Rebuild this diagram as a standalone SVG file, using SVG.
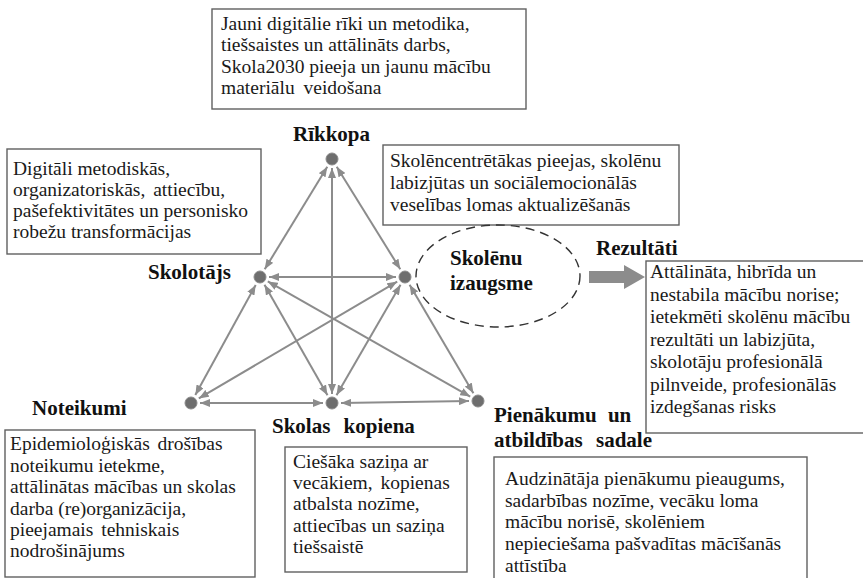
<svg xmlns="http://www.w3.org/2000/svg" width="863" height="578" viewBox="0 0 863 578">
<style>
  .box { fill: #ffffff; stroke: #606060; stroke-width: 1.4; }
  .txt { font-family: "Liberation Serif", "Times New Roman", serif; font-size: 19.5px; fill: #1a1a1a; }
  .lbl { font-family: "Liberation Serif", "Times New Roman", serif; font-size: 21px; font-weight: bold; fill: #111111; }
  .node { fill: #6e6e6e; stroke: #8a8a8a; stroke-width: 1; }
  .edge { stroke: #8c8c8c; stroke-width: 2; fill: none; marker-start: url(#ah); marker-end: url(#ah); }
</style>
<defs>
  <marker id="ah" viewBox="0 0 10 8" refX="10" refY="4" markerWidth="10" markerHeight="8" markerUnits="userSpaceOnUse" orient="auto-start-reverse">
    <path d="M0,0 L10,4 L0,8 Z" fill="#8c8c8c"/>
  </marker>
</defs>
<rect width="863" height="578" fill="#ffffff"/>

<g id="connectors">
  <line class="edge" x1="327.3" y1="166.7" x2="264.7" y2="269.3"/>
  <line class="edge" x1="336.7" y1="166.7" x2="400.3" y2="269.3"/>
  <line class="edge" x1="332" y1="168" x2="332" y2="394"/>
  <line class="edge" x1="269" y1="277" x2="396" y2="277"/>
  <line class="edge" x1="255.7" y1="284.9" x2="195.3" y2="395.1"/>
  <line class="edge" x1="264.5" y1="284.8" x2="327.5" y2="395.2"/>
  <line class="edge" x1="267.8" y1="281.4" x2="470.2" y2="396.6"/>
  <line class="edge" x1="397.2" y1="281.6" x2="198.8" y2="398.4"/>
  <line class="edge" x1="400.5" y1="284.8" x2="336.5" y2="395.2"/>
  <line class="edge" x1="409.6" y1="284.8" x2="473.4" y2="393.2"/>
  <line class="edge" x1="200" y1="403" x2="323" y2="403"/>
  <line class="edge" x1="341" y1="403" x2="469" y2="401"/>
</g>

<g id="rikkopa">
  <rect class="box" x="212" y="9" width="314" height="100"/>
  <text class="txt" x="221" y="30">Jauni digitālie rīki un metodika,</text>
  <text class="txt" x="221" y="51.3">tiešsaistes un attālināts darbs,</text>
  <text class="txt" x="221" y="72.6">Skola2030 pieeja un jaunu mācību</text>
  <text class="txt" x="221" y="94" word-spacing="4">materiālu veidošana</text>
  <text class="lbl" x="293" y="141">Rīkkopa</text>
  <circle class="node" cx="332" cy="159" r="6"/>
</g>

<g id="skolotajs">
  <rect class="box" x="7" y="149" width="254" height="105"/>
  <text class="txt" x="13" y="175">Digitāli metodiskās,</text>
  <text class="txt" x="13" y="196" word-spacing="3">organizatoriskās, attiecību,</text>
  <text class="txt" x="13" y="217">pašefektivitātes un personisko</text>
  <text class="txt" x="13" y="238">robežu transformācijas</text>
  <text class="lbl" x="148" y="279">Skolotājs</text>
  <circle class="node" cx="260" cy="277" r="6"/>
</g>

<g id="skoleni">
  <rect class="box" x="383" y="145" width="296" height="80"/>
  <text class="txt" x="390" y="167">Skolēncentrētākas pieejas, skolēnu</text>
  <text class="txt" x="390" y="189">labizjūtas un sociālemocionālās</text>
  <text class="txt" x="390" y="211">veselības lomas aktualizēšanās</text>
  <circle class="node" cx="405" cy="277" r="6"/>
</g>

<g id="skolenu-izaugsme">
  <ellipse cx="498" cy="276" rx="82" ry="51" fill="none" stroke="#333333" stroke-width="1.4" stroke-dasharray="9,6"/>
  <text class="lbl" x="450" y="265">Skolēnu</text>
  <text class="lbl" x="450" y="290">izaugsme</text>
</g>

<g id="rezultati">
  <text class="lbl" x="596" y="255">Rezultāti</text>
  <path d="M589,271 L624,271 L624,265 L645,277 L624,289 L624,283 L589,283 Z" fill="#8c8c8c"/>
  <rect class="box" x="646" y="261" width="230" height="172"/>
  <text class="txt" x="650" y="278">Attālināta, hibrīda un</text>
  <text class="txt" x="650" y="301">nestabila mācību norise;</text>
  <text class="txt" x="650" y="323">ietekmēti skolēnu mācību</text>
  <text class="txt" x="650" y="346">rezultāti un labizjūta,</text>
  <text class="txt" x="650" y="368">skolotāju profesionālā</text>
  <text class="txt" x="650" y="391">pilnveide, profesionālās</text>
  <text class="txt" x="650" y="413">izdegšanas risks</text>
</g>

<g id="noteikumi">
  <circle class="node" cx="191" cy="403" r="6"/>
  <text class="lbl" x="32" y="415">Noteikumi</text>
  <rect class="box" x="5" y="430" width="250" height="147"/>
  <text class="txt" x="10" y="450" word-spacing="3">Epidemioloģiskās drošības</text>
  <text class="txt" x="10" y="471.5">noteikumu ietekme,</text>
  <text class="txt" x="10" y="493">attālinātas mācības un skolas</text>
  <text class="txt" x="10" y="514.5">darba (re)organizācija,</text>
  <text class="txt" x="10" y="536" word-spacing="3">pieejamais tehniskais</text>
  <text class="txt" x="10" y="557">nodrošinājums</text>
</g>

<g id="skolas-kopiena">
  <circle class="node" cx="332" cy="403" r="6"/>
  <text class="lbl" x="272" y="433" word-spacing="8">Skolas kopiena</text>
  <rect class="box" x="285" y="447" width="182" height="125"/>
  <text class="txt" x="293" y="468">Ciešāka saziņa ar</text>
  <text class="txt" x="293" y="489" word-spacing="3">vecākiem, kopienas</text>
  <text class="txt" x="293" y="510">atbalsta nozīme,</text>
  <text class="txt" x="293" y="531.5">attiecības un saziņa</text>
  <text class="txt" x="293" y="553">tiešsaistē</text>
</g>

<g id="pienakumi">
  <circle class="node" cx="478" cy="401" r="6"/>
  <text class="lbl" x="494" y="422" word-spacing="6">Pienākumu un</text>
  <text class="lbl" x="494" y="447" word-spacing="8">atbildības sadale</text>
  <rect class="box" x="494" y="457" width="313" height="130"/>
  <text class="txt" x="505" y="485">Audzinātāja pienākumu pieaugums,</text>
  <text class="txt" x="505" y="506.5">sadarbības nozīme, vecāku loma</text>
  <text class="txt" x="505" y="528">mācību norisē, skolēniem</text>
  <text class="txt" x="505" y="550">nepieciešama pašvadītas mācīšanās</text>
  <text class="txt" x="505" y="571.5">attīstība</text>
</g>
</svg>
